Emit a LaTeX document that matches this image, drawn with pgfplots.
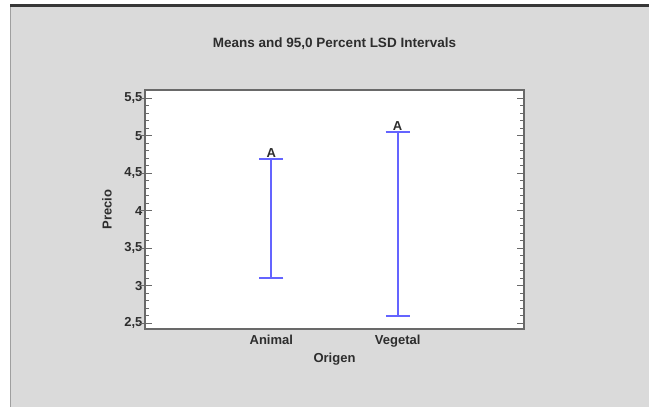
\documentclass[border=0pt]{standalone}
\usepackage{fontspec}
\setmainfont{Liberation Sans}
\usepackage{pgfplots}
\pgfplotsset{compat=1.18}
\definecolor{panel}{RGB}{218,218,218}
\definecolor{topbar}{RGB}{55,55,55}
\definecolor{frame}{RGB}{105,105,105}
\definecolor{ink}{RGB}{45,45,45}
\definecolor{lsd}{RGB}{100,100,255}

\pgfplotstableread{
x  m      e
1  3.895  0.795
2  3.820  1.230
}\lsddata

\begin{document}
\begin{tikzpicture}
% window background
\fill[white] (0pt,0pt) rectangle (649pt,-407pt);
\fill[panel] (10pt,-7pt) rectangle (649pt,-407pt);
\fill[topbar] (10pt,-4pt) rectangle (649pt,-7pt);
\draw[gray!75, line width=1pt] (10.5pt,-7pt) -- (10.5pt,-407pt);

\begin{axis}[
  at={(145pt,-329pt)}, anchor=south west,
  scale only axis, width=379pt, height=239pt,
  xmin=0, xmax=3, ymin=2.42, ymax=5.61,
  axis background/.style={fill=white},
  axis line style={frame, line width=1.3pt},
  xtick={1,2}, xticklabels={Animal,Vegetal},
  x tick style={draw=none},
  ytick={2.5,3,...,5.5}, minor y tick num=4,
  ytick pos=both, tick align=inside,
  major tick length=7pt, minor tick length=4pt,
  y tick style={frame, line width=0.9pt},
  extra y ticks={2.5,3,...,5.5}, extra y tick labels={},
  extra y tick style={ytick pos=left, tick align=outside, major tick length=6pt},
  /pgf/number format/use comma,
  /pgf/number format/assume math mode=true,
  tick label style={font=\bfseries\fontsize{13}{13}\selectfont, text=ink},
  yticklabel style={xshift=1pt},
  xticklabel style={yshift=-3pt},
  title={Means and 95,0 Percent LSD Intervals},
  title style={at={(0.5,1.17)}, anchor=center, font=\bfseries\fontsize{13.5}{13.5}\selectfont, text=ink},
  xlabel={Origen},
  xlabel style={at={(0.5,-0.128)}, anchor=center, font=\bfseries\fontsize{13}{13}\selectfont, text=ink},
  ylabel={Precio},
  ylabel style={at={(-0.100,0.5)}, anchor=center, rotate=0, font=\bfseries\fontsize{13}{13}\selectfont, text=ink},
  clip=false,
]
\addplot[draw=none, mark=none,
  error bars/.cd, y dir=both, y explicit,
  error bar style={draw=lsd, solid, line width=1.7pt},
  error mark options={draw=lsd, solid, line width=1.7pt, mark size=12pt, rotate=90}]
  table[x=x, y=m, y error=e] {\lsddata};
\node[anchor=south, inner sep=1.5pt, font=\bfseries\fontsize{13}{13}\selectfont, text=ink] at (axis cs:1,4.69) {A};
\node[anchor=south, inner sep=1.5pt, font=\bfseries\fontsize{13}{13}\selectfont, text=ink] at (axis cs:2,5.05) {A};
\end{axis}
\end{tikzpicture}
\end{document}
